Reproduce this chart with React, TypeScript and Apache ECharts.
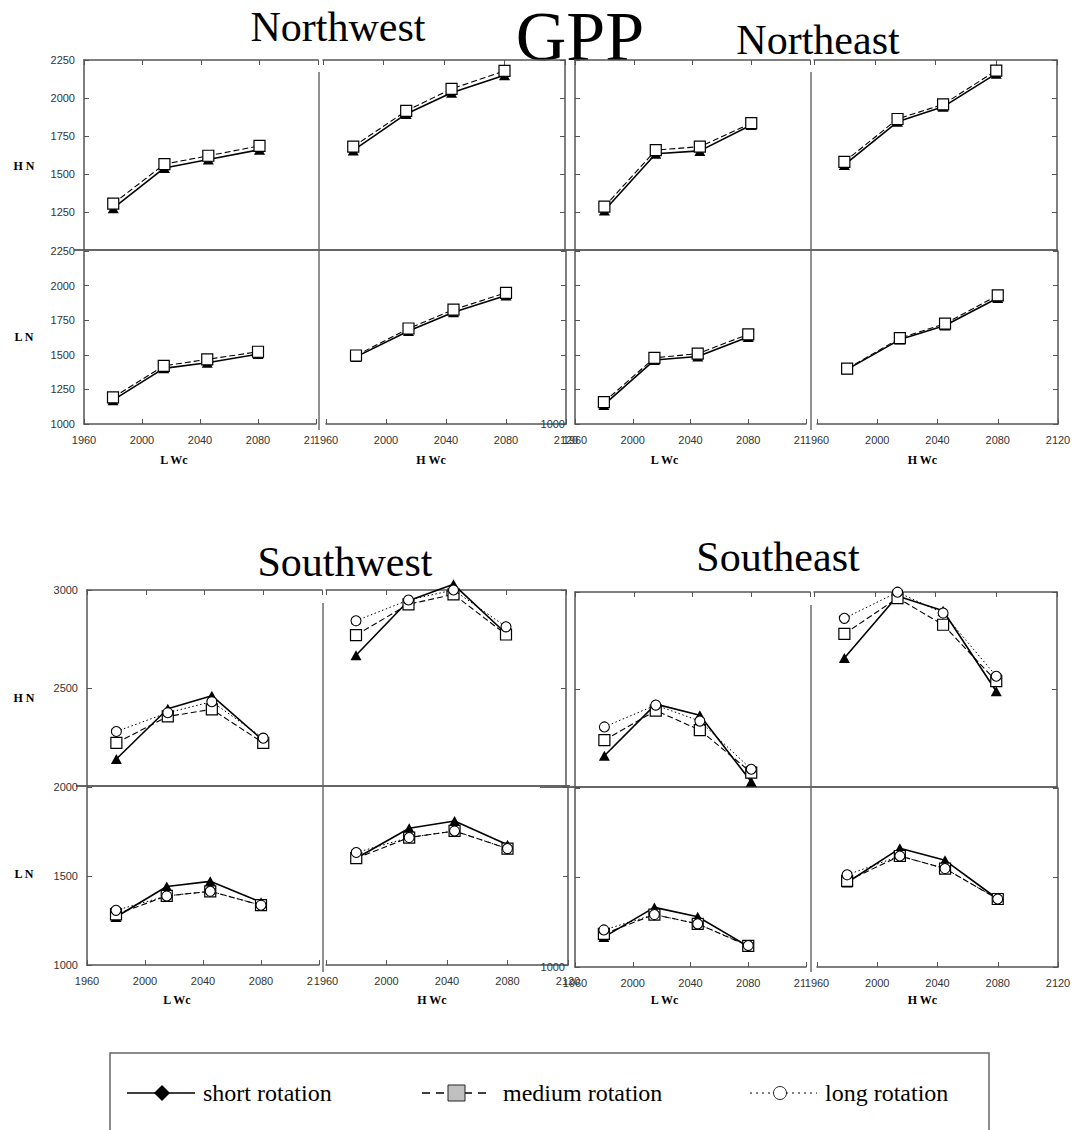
import React, { useEffect, useRef } from "react";
import * as echarts from "echarts";

// ---------- data ----------
const years = [1980, 2015, 2045, 2080];
const yearMin = 1960;
const yearMax = 2120;
const yearStep = 40;
const northTicks = [1000, 1250, 1500, 1750, 2000, 2250];
const southTopTicks = [2000, 2500, 3000];
const southBottomTicks = [1000, 1500, 2000];

const chartTitle = "GPP";
const regionNames = ["Northwest", "Northeast", "Southwest", "Southeast"];
const rowLabels = ["H N", "L N"];
const colLabels = ["L Wc", "H Wc"];
const seriesNames = ["short rotation", "medium rotation", "long rotation"];

// Northwest
const nwHnLwcShort = [1275, 1540, 1595, 1660];
const nwHnLwcMedium = [1305, 1565, 1620, 1685];
const nwHnHwcShort = [1655, 1895, 2035, 2150];
const nwHnHwcMedium = [1680, 1915, 2060, 2178];
const nwLnLwcShort = [1172, 1402, 1442, 1505];
const nwLnLwcMedium = [1192, 1420, 1467, 1522];
const nwLnHwcShort = [1485, 1672, 1808, 1928];
const nwLnHwcMedium = [1495, 1690, 1826, 1948];
// Northeast
const neHnLwcShort = [1260, 1633, 1652, 1822];
const neHnLwcMedium = [1285, 1657, 1680, 1835];
const neHnHwcShort = [1560, 1843, 1942, 2160];
const neHnHwcMedium = [1580, 1862, 1958, 2180];
const neLnLwcShort = [1138, 1462, 1488, 1628];
const neLnLwcMedium = [1158, 1478, 1508, 1648];
const neLnHwcShort = [1395, 1610, 1712, 1910];
const neLnHwcMedium = [1400, 1620, 1725, 1930];
// Southwest
const swHnLwcShort = [2138, 2394, 2461, 2232];
const swHnLwcMedium = [2220, 2355, 2391, 2220];
const swHnLwcLong = [2278, 2374, 2430, 2244];
const swHnHwcShort = [2667, 2945, 3029, 2778];
const swHnHwcMedium = [2770, 2927, 2978, 2773];
const swHnHwcLong = [2843, 2949, 3000, 2812];
const swLnLwcShort = [1270, 1441, 1470, 1353];
const swLnLwcMedium = [1284, 1388, 1414, 1336];
const swLnLwcLong = [1307, 1388, 1414, 1336];
const swLnHwcShort = [1600, 1768, 1809, 1675];
const swLnHwcMedium = [1600, 1716, 1753, 1654];
const swLnHwcLong = [1632, 1716, 1753, 1654];
// Southeast
const seHnLwcShort = [2160, 2425, 2368, 2027];
const seHnLwcMedium = [2240, 2392, 2292, 2074];
const seHnLwcLong = [2308, 2420, 2338, 2091];
const seHnHwcShort = [2662, 2980, 2904, 2491];
const seHnHwcMedium = [2785, 2969, 2832, 2543];
const seHnHwcLong = [2865, 2999, 2892, 2568];
const seLnLwcShort = [1167, 1333, 1281, 1115];
const seLnLwcMedium = [1185, 1293, 1241, 1118];
const seLnLwcLong = [1207, 1293, 1241, 1120];
const seLnHwcShort = [1472, 1663, 1596, 1380];
const seLnHwcMedium = [1481, 1620, 1550, 1380];
const seLnHwcLong = [1515, 1620, 1550, 1380];

type Panel = { region: number; row: number; col: number; short: number[]; medium: number[]; long: number[] | null };
const panels: Panel[] = [
  { region: 0, row: 0, col: 0, short: nwHnLwcShort, medium: nwHnLwcMedium, long: null },
  { region: 0, row: 0, col: 1, short: nwHnHwcShort, medium: nwHnHwcMedium, long: null },
  { region: 0, row: 1, col: 0, short: nwLnLwcShort, medium: nwLnLwcMedium, long: null },
  { region: 0, row: 1, col: 1, short: nwLnHwcShort, medium: nwLnHwcMedium, long: null },
  { region: 1, row: 0, col: 0, short: neHnLwcShort, medium: neHnLwcMedium, long: null },
  { region: 1, row: 0, col: 1, short: neHnHwcShort, medium: neHnHwcMedium, long: null },
  { region: 1, row: 1, col: 0, short: neLnLwcShort, medium: neLnLwcMedium, long: null },
  { region: 1, row: 1, col: 1, short: neLnHwcShort, medium: neLnHwcMedium, long: null },
  { region: 2, row: 0, col: 0, short: swHnLwcShort, medium: swHnLwcMedium, long: swHnLwcLong },
  { region: 2, row: 0, col: 1, short: swHnHwcShort, medium: swHnHwcMedium, long: swHnHwcLong },
  { region: 2, row: 1, col: 0, short: swLnLwcShort, medium: swLnLwcMedium, long: swLnLwcLong },
  { region: 2, row: 1, col: 1, short: swLnHwcShort, medium: swLnHwcMedium, long: swLnHwcLong },
  { region: 3, row: 0, col: 0, short: seHnLwcShort, medium: seHnLwcMedium, long: seHnLwcLong },
  { region: 3, row: 0, col: 1, short: seHnHwcShort, medium: seHnHwcMedium, long: seHnHwcLong },
  { region: 3, row: 1, col: 0, short: seLnLwcShort, medium: seLnLwcMedium, long: seLnLwcLong },
  { region: 3, row: 1, col: 1, short: seLnHwcShort, medium: seLnHwcMedium, long: seLnHwcLong },
];

// ---------- layout ----------
const layouts = [
  {
    cols: [[[84, 318], [323, 565]], [[84, 316], [326, 566]]],
    rows: [[60, 250], [251, 424]],
    ticks: [northTicks, northTicks],
    west: true,
    divider: [319, 72, 430],
    boundary: [74, 566, 250],
    title: { x: 338, y: 27, size: 42 },
    rowLabelY: [166, 337],
    colLabelY: 460,
  },
  {
    cols: [[[575, 810], [814, 1057]], [[575, 806], [817, 1058]]],
    rows: [[60, 250], [251, 424]],
    ticks: [northTicks, northTicks],
    west: false,
    divider: [811, 72, 430],
    boundary: [540, 1058, 250],
    title: { x: 818, y: 40, size: 42 },
    rowLabelY: [166, 337],
    colLabelY: 460,
  },
  {
    cols: [[[87, 322], [326, 566]], [[87, 319], [326, 568]]],
    rows: [[590, 786], [787, 965]],
    ticks: [southTopTicks, southBottomTicks],
    west: true,
    divider: [323, 603, 972],
    boundary: [76, 570, 786],
    title: { x: 345, y: 562, size: 42 },
    rowLabelY: [698, 874],
    colLabelY: 1000,
  },
  {
    cols: [[[575, 810], [814, 1057]], [[575, 806], [817, 1058]]],
    rows: [[592, 787], [788, 967]],
    ticks: [southTopTicks, southBottomTicks],
    west: false,
    divider: [811, 605, 972],
    boundary: [540, 1058, 787],
    title: { x: 778, y: 557, size: 42 },
    rowLabelY: [698, 874],
    colLabelY: 1000,
  },
];

const AXIS_COLOR = "#555";
const LABEL_FONT = "Liberation Sans";
const SERIF = '"Liberation Serif"';

function buildOption() {
  const grid: any[] = [];
  const xAxis: any[] = [];
  const yAxis: any[] = [];
  const series: any[] = [];
  const graphic: any[] = [];

  panels.forEach((p, i) => {
    const lay = layouts[p.region];
    const [x0, x1] = lay.cols[p.row][p.col];
    const [y0, y1] = lay.rows[p.row];
    grid.push({ left: x0, top: y0, width: x1 - x0, height: y1 - y0, containLabel: false });
    const isTop = p.row === 0;
    const isLeft = p.col === 0;
    xAxis.push({
      gridIndex: i,
      type: "value",
      min: yearMin,
      max: yearMax,
      interval: yearStep,
      position: isTop ? "top" : "bottom",
      axisLine: { show: true, onZero: false, lineStyle: { color: AXIS_COLOR, width: 1.5 } },
      axisTick: { show: true, inside: true, length: 5, lineStyle: { color: AXIS_COLOR, width: 1 } },
      axisLabel: {
        show: !isTop,
        formatter: (v: number) => String(v),
        color: "#333",
        fontSize: 11,
        fontFamily: LABEL_FONT,
        margin: 10,
        backgroundColor: isLeft ? "transparent" : "#fff",
      },
      splitLine: { show: false },
    });
    const ticks = lay.ticks[p.row];
    const yMin = ticks[0];
    const yMax = ticks[ticks.length - 1];
    const showY = isLeft && (lay.west || !isTop);
    yAxis.push({
      gridIndex: i,
      type: "value",
      min: yMin,
      max: yMax,
      interval: ticks[1] - ticks[0],
      position: isLeft ? "left" : "right",
      axisLine: { show: true, onZero: false, lineStyle: { color: AXIS_COLOR, width: 1.5 } },
      axisTick: { show: true, inside: true, length: 5, lineStyle: { color: AXIS_COLOR, width: 1 } },
      axisLabel: {
        show: showY,
        showMinLabel: !(isTop && lay.west),
        formatter: (v: number) => (lay.west ? String(v) : v === yMin ? String(v) : ""),
        color: "#333",
        fontSize: 11,
        fontFamily: LABEL_FONT,
        margin: lay.west ? 9 : 10,
      },
      splitLine: { show: false },
    });

    series.push({
      name: seriesNames[0],
      type: "line",
      xAxisIndex: i,
      yAxisIndex: i,
      data: years.map((y, k) => [y, p.short[k]]),
      symbol: "triangle",
      symbolSize: [11, 10],
      clip: false,
      z: 3,
      itemStyle: { color: "#000" },
      lineStyle: { color: "#000", width: 1.6, type: "solid" },
    });
    series.push({
      name: seriesNames[1],
      type: "line",
      xAxisIndex: i,
      yAxisIndex: i,
      data: years.map((y, k) => [y, p.medium[k]]),
      symbol: "rect",
      symbolSize: 11,
      clip: false,
      z: 4,
      itemStyle: { color: "#fff", borderColor: "#000", borderWidth: 1.2 },
      lineStyle: { color: "#000", width: 1.1, type: [6, 3] },
    });
    if (p.long) {
      series.push({
        name: seriesNames[2],
        type: "line",
        xAxisIndex: i,
        yAxisIndex: i,
        data: years.map((y, k) => [y, (p.long as number[])[k]]),
        symbol: "circle",
        symbolSize: 10,
        clip: false,
        z: 5,
        itemStyle: { color: "#fff", borderColor: "#000", borderWidth: 1.1 },
        lineStyle: { color: "#000", width: 1, type: [1.5, 2.5] },
      });
    }
  });

  // region decorations
  layouts.forEach((lay, r) => {
    const [dx, dy0, dy1] = lay.divider;
    graphic.push({ type: "line", shape: { x1: dx, y1: dy0, x2: dx, y2: dy1 }, style: { stroke: "#222", lineWidth: 1 } });
    const [bx0, bx1, by] = lay.boundary;
    graphic.push({ type: "line", shape: { x1: bx0, y1: by, x2: bx1, y2: by }, style: { stroke: "#666", lineWidth: 1.8 } });
    graphic.push({
      type: "text",
      x: lay.title.x,
      y: lay.title.y,
      style: { text: regionNames[r], font: `${lay.title.size}px ${SERIF}`, fill: "#000", textAlign: "center", textVerticalAlign: "middle", align: "center", verticalAlign: "middle" },
    });
    if (lay.west) {
      rowLabels.forEach((t, k) => {
        graphic.push({
          type: "text",
          x: 24,
          y: lay.rowLabelY[k],
          style: { text: t, font: `bold 12px ${SERIF}`, fill: "#000", textAlign: "center", textVerticalAlign: "middle", align: "center", verticalAlign: "middle" },
        });
      });
    }
    colLabels.forEach((t, c) => {
      const [x0, x1] = lay.cols[1][c];
      const yr = c === 0 ? 2022 : 2030;
      const cx = x0 + ((yr - yearMin) / (yearMax - yearMin)) * (x1 - x0);
      graphic.push({
        type: "text",
        x: cx,
        y: lay.colLabelY,
        style: { text: t, font: `bold 12px ${SERIF}`, fill: "#000", textAlign: "center", textVerticalAlign: "middle", align: "center", verticalAlign: "middle" },
      });
    });
  });

  // main title
  graphic.push({
    type: "text",
    x: 580,
    y: 36,
    style: { text: chartTitle, font: `70px ${SERIF}`, fill: "#000", textAlign: "center", textVerticalAlign: "middle", align: "center", verticalAlign: "middle" },
  });

  // legend (drawn box)
  const ly = 1093;
  const legendFont = `24px ${SERIF}`;
  graphic.push({ type: "rect", shape: { x: 110, y: 1053, width: 879, height: 120 }, style: { fill: "none", stroke: "#666", lineWidth: 1.5 } });
  graphic.push({ type: "line", shape: { x1: 127, y1: ly, x2: 195, y2: ly }, style: { stroke: "#000", lineWidth: 1.5 } });
  graphic.push({ type: "polygon", shape: { points: [[162, ly - 8], [170, ly], [162, ly + 8], [154, ly]] }, style: { fill: "#000" } });
  graphic.push({ type: "text", x: 203, y: ly, style: { text: seriesNames[0], font: legendFont, fill: "#000", textAlign: "left", textVerticalAlign: "middle", align: "left", verticalAlign: "middle" } });
  graphic.push({ type: "line", shape: { x1: 422, y1: ly, x2: 487, y2: ly }, style: { stroke: "#000", lineWidth: 1.5, lineDash: [8, 6] } });
  graphic.push({ type: "rect", shape: { x: 448, y: ly - 8, width: 17, height: 16 }, style: { fill: "#c0c0c0", stroke: "#222", lineWidth: 1 } });
  graphic.push({ type: "text", x: 503, y: ly, style: { text: seriesNames[1], font: legendFont, fill: "#000", textAlign: "left", textVerticalAlign: "middle", align: "left", verticalAlign: "middle" } });
  graphic.push({ type: "line", shape: { x1: 750, y1: ly, x2: 817, y2: ly }, style: { stroke: "#000", lineWidth: 1.2, lineDash: [2, 4] } });
  graphic.push({ type: "circle", shape: { cx: 780, cy: ly, r: 6.5 }, style: { fill: "#fff", stroke: "#222", lineWidth: 1 } });
  graphic.push({ type: "text", x: 825, y: ly, style: { text: seriesNames[2], font: legendFont, fill: "#000", textAlign: "left", textVerticalAlign: "middle", align: "left", verticalAlign: "middle" } });

  return {
    animation: false,
    backgroundColor: "#fff",
    grid,
    xAxis,
    yAxis,
    series,
    graphic: { elements: graphic },
  };
}

export default function App() {
  const ref = useRef<HTMLDivElement | null>(null);
  useEffect(() => {
    if (!ref.current) return;
    const chart = echarts.init(ref.current, undefined, { renderer: "svg" });
    chart.setOption(buildOption() as any);
    return () => chart.dispose();
  }, []);
  return (
    <div style={{ position: "absolute", left: 0, top: 0, width: 1075, height: 1130, background: "#fff" }}>
      <div ref={ref} style={{ width: 1075, height: 1130 }} />
    </div>
  );
}
